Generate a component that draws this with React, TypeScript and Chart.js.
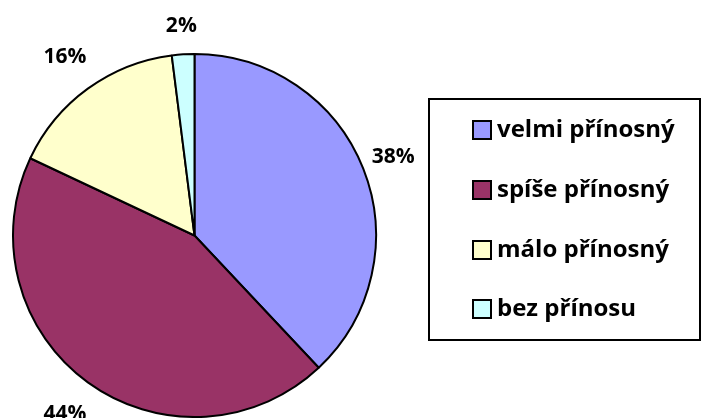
import React, { useEffect, useRef } from "react";
import { Chart, registerables } from "chart.js";

Chart.register(...registerables);

const categories = ["velmi přínosný", "spíše přínosný", "málo přínosný", "bez přínosu"];
const values = [38, 44, 16, 2];
const labels = ["38%", "44%", "16%", "2%"];
const colors = ["#9999FF", "#993366", "#FFFFCC", "#CCFFFF"];

const LABEL_FONT = "bold 21px 'Open Sans', sans-serif";
const LEGEND_FONT = "bold 24px 'Open Sans', sans-serif";

const customPlugin = {
  id: "customDecor",
  afterDraw(chart: any) {
    const ctx = chart.ctx as CanvasRenderingContext2D;
    const meta = chart.getDatasetMeta(0);
    ctx.save();
    ctx.font = LABEL_FONT;
    ctx.fillStyle = "#000";
    ctx.textAlign = "center";
    ctx.textBaseline = "middle";
    meta.data.forEach((arc: any, i: number) => {
      const mid = (arc.startAngle + arc.endAngle) / 2;
      const m = Math.min(Math.abs(Math.cos(mid)), Math.abs(Math.sin(mid)));
      const d = arc.outerRadius + 28 + 32 * m * m;
      const x = arc.x + Math.cos(mid) * d;
      const y = arc.y + Math.sin(mid) * d;
      ctx.fillText(labels[i], x, y);
    });
    // legend box
    ctx.lineWidth = 2;
    ctx.strokeStyle = "#000";
    ctx.strokeRect(429, 99, 271, 241);
    const rowY = [130, 190, 250, 309];
    ctx.textAlign = "left";
    ctx.font = LEGEND_FONT;
    categories.forEach((c, i) => {
      ctx.fillStyle = colors[i];
      ctx.fillRect(473, rowY[i] - 9, 18, 18);
      ctx.lineWidth = 2;
      ctx.strokeRect(473, rowY[i] - 9, 18, 18);
      ctx.fillStyle = "#000";
      ctx.fillText(c, 497, rowY[i]);
    });
    ctx.restore();
  },
};

export default function App() {
  const ref = useRef<HTMLCanvasElement>(null);
  useEffect(() => {
    if (!ref.current) return;
    const chart = new Chart(ref.current, {
      type: "pie",
      data: {
        labels: categories,
        datasets: [
          {
            data: values,
            backgroundColor: colors,
            borderColor: "#000",
            borderWidth: 2,
          },
        ],
      },
      options: {
        responsive: false,
        animation: false,
        layout: { padding: { left: 12, right: 327, top: 53, bottom: 0 } },
        plugins: {
          legend: { display: false },
          tooltip: { enabled: false },
        },
      },
      plugins: [customPlugin],
    });
    return () => chart.destroy();
  }, []);
  return (
    <div style={{ position: "fixed", left: 0, top: 0, width: 704, height: 418, background: "#fff" }}>
      <canvas ref={ref} width={704} height={418} style={{ width: 704, height: 418 }} />
    </div>
  );
}
